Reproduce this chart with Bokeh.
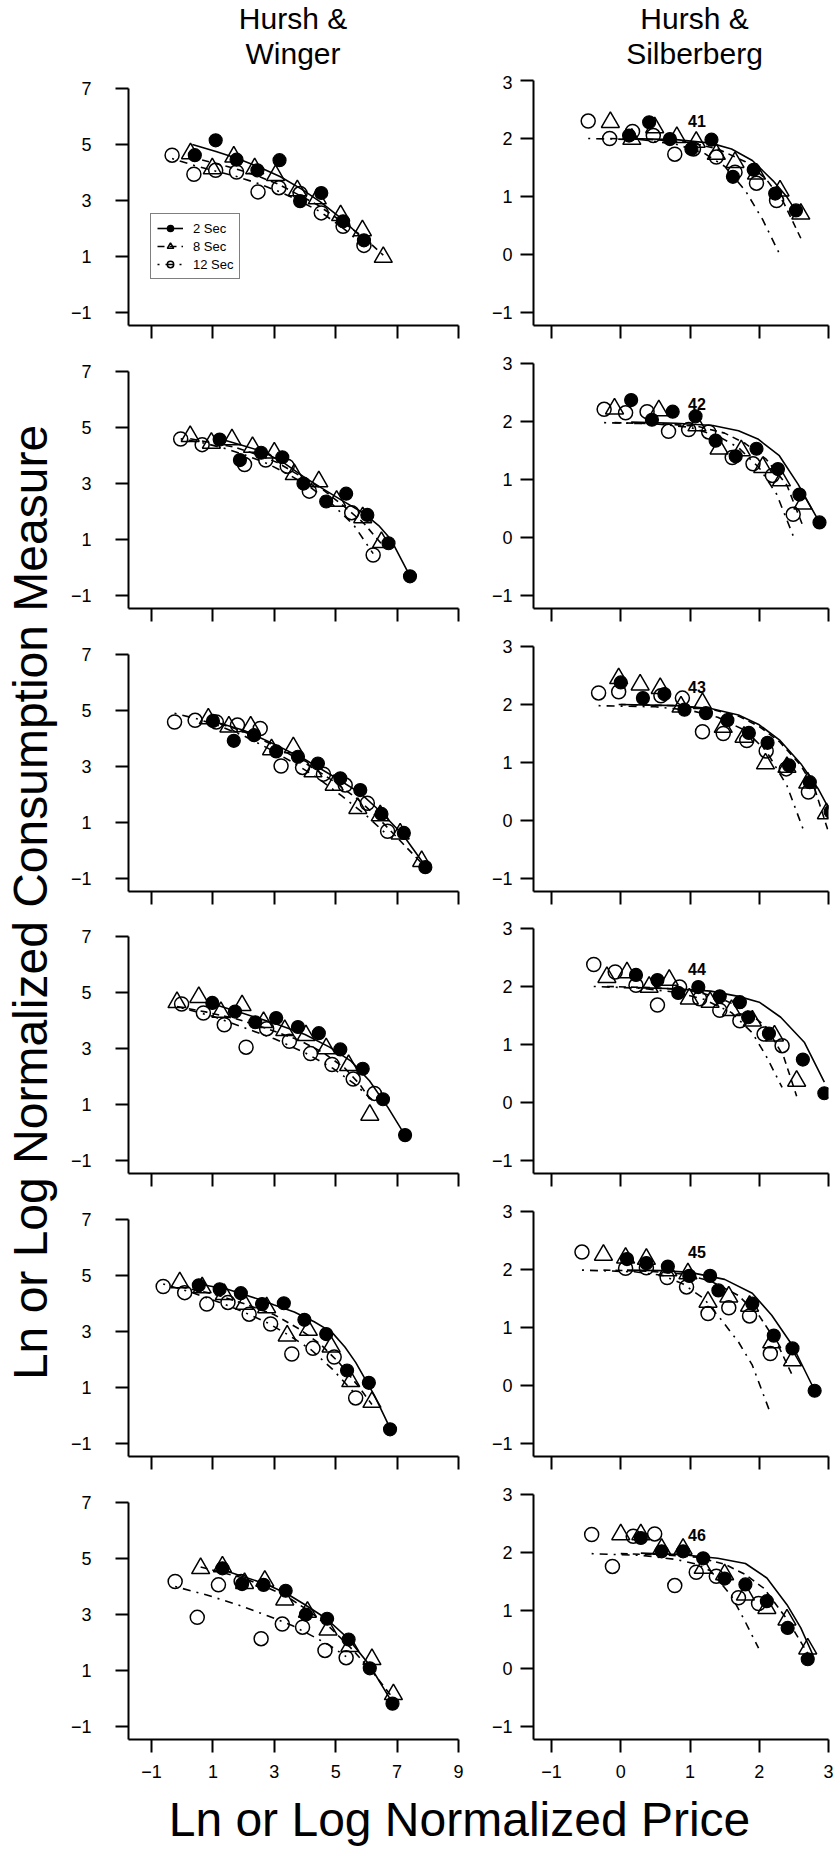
from bokeh.plotting import figure
from bokeh.layouts import column, row
from bokeh.models import Range1d, FixedTicker, Legend, LegendItem
from bokeh.core.properties import value
from bokeh.embed import file_html
from bokeh.resources import INLINE

FONT = "Liberation Sans"

# ------------------------------------------------------------------ data
column_titles = [["Hursh &", "Winger"], ["Hursh &", "Silberberg"]]
x_label = "Ln or Log Normalized Price"
y_label = "Ln or Log Normalized Consumption Measure"
series_names = ["2 Sec", "8 Sec", "12 Sec"]
bird_ids = ["41", "42", "43", "44", "45", "46"]
hw_x_ticks = [-1, 1, 3, 5, 7, 9]
hw_y_ticks = [-1, 1, 3, 5, 7]
hs_x_ticks = [-1, 0, 1, 2, 3]
hs_y_ticks = [-1, 0, 1, 2, 3]

# Hursh & Winger (left column)
hw1_2s = [(0.41, 4.62), (1.09, 5.15), (1.77, 4.46), (2.45, 4.08), (3.17, 4.44), (3.84, 2.98), (4.53, 3.27), (5.24, 2.26), (5.92, 1.58)]
hw1_8s = [(0.27, 4.68), (0.98, 4.14), (1.68, 4.56), (2.36, 4.14), (3.04, 3.90), (3.75, 3.36), (4.40, 3.07), (5.16, 2.47), (5.87, 1.93), (6.55, 0.98)]
hw1_12s = [(-0.33, 4.62), (0.38, 3.94), (1.09, 4.08), (1.77, 4.02), (2.47, 3.31), (3.15, 3.46), (3.84, 3.25), (4.53, 2.56), (5.24, 2.08), (5.92, 1.40)]
hw1_2s_fit = [(0.33, 5.0), (1.1, 4.75), (1.8, 4.5), (2.5, 4.2), (3.2, 3.85), (3.9, 3.4), (4.5, 2.95), (5.2, 2.35), (5.92, 1.6)]
hw1_8s_fit = [(0.27, 4.55), (1.0, 4.35), (1.7, 4.15), (2.4, 3.9), (3.1, 3.6), (3.8, 3.2), (4.4, 2.85), (5.2, 2.25), (5.9, 1.7), (6.55, 1.05)]
hw1_12s_fit = [(-0.33, 4.5), (0.4, 4.25), (1.1, 4.05), (1.8, 3.85), (2.5, 3.6), (3.2, 3.3), (3.8, 3.0), (4.5, 2.6), (5.2, 2.05), (5.92, 1.4)]

hw2_2s = [(1.22, 4.57), (1.88, 3.84), (2.57, 4.10), (3.26, 3.94), (3.95, 3.0), (4.69, 2.36), (5.34, 2.64), (6.03, 1.88), (6.72, 0.87), (7.42, -0.31)]
hw2_8s = [(0.26, 4.69), (0.95, 4.45), (1.62, 4.57), (2.29, 4.30), (3.0, 4.10), (3.65, 3.33), (4.45, 3.07), (5.03, 2.38), (5.88, 1.79), (6.49, 0.9)]
hw2_12s = [(-0.05, 4.59), (0.65, 4.39), (2.03, 3.68), (2.72, 3.84), (3.42, 3.62), (4.14, 2.73), (5.52, 1.96), (6.22, 0.45)]
hw2_2s_fit = [(1.22, 4.6), (2.0, 4.35), (2.6, 4.15), (3.3, 3.75), (3.95, 3.25), (4.6, 2.8), (5.2, 2.4), (5.9, 1.95), (6.4, 1.5), (6.8, 1.0), (7.42, -0.3)]
hw2_8s_fit = [(0.26, 4.6), (1.0, 4.45), (1.7, 4.3), (2.4, 4.05), (3.1, 3.75), (3.8, 3.3), (4.5, 2.85), (5.2, 2.25), (5.9, 1.6), (6.49, 0.85)]
hw2_12s_fit = [(-0.05, 4.6), (0.7, 4.45), (1.4, 4.25), (2.1, 4.0), (2.8, 3.7), (3.5, 3.3), (4.2, 2.85), (4.9, 2.25), (5.6, 1.5), (6.22, 0.5)]

hw3_2s = [(1.0, 4.63), (1.68, 3.92), (2.34, 4.12), (3.06, 3.54), (3.77, 3.35), (4.42, 3.11), (5.15, 2.58), (5.80, 2.16), (6.49, 1.31), (7.22, 0.63), (7.92, -0.59)]
hw3_8s = [(0.85, 4.71), (1.52, 4.42), (2.23, 4.42), (2.91, 3.61), (3.62, 3.68), (4.26, 2.82), (4.95, 2.34), (5.72, 1.51), (6.45, 1.25), (7.1, 0.6), (7.8, -0.38)]
hw3_12s = [(-0.25, 4.59), (0.42, 4.65), (1.11, 4.59), (1.8, 4.48), (2.54, 4.36), (3.22, 3.02), (3.92, 2.97), (4.60, 2.73), (5.31, 2.34), (6.03, 1.69), (6.69, 0.69)]
hw3_2s_fit = [(1.0, 4.62), (2.0, 4.3), (3.0, 3.8), (4.0, 3.25), (5.0, 2.6), (5.8, 2.05), (6.5, 1.35), (7.2, 0.55), (7.92, -0.55)]
hw3_8s_fit = [(0.85, 4.65), (1.9, 4.3), (2.9, 3.8), (3.9, 3.2), (4.9, 2.5), (5.7, 1.85), (6.4, 1.15), (7.1, 0.35), (7.8, -0.45)]
hw3_12s_fit = [(-0.25, 4.9), (0.5, 4.7), (1.2, 4.45), (2.0, 4.1), (2.8, 3.65), (3.6, 3.15), (4.4, 2.6), (5.2, 1.95), (6.0, 1.25), (6.69, 0.55)]

hw4_2s = [(0.98, 4.63), (1.72, 4.32), (2.38, 3.94), (3.06, 4.09), (3.77, 3.77), (4.45, 3.55), (5.15, 2.97), (5.88, 2.28), (6.54, 1.19), (7.26, -0.09)]
hw4_8s = [(-0.17, 4.65), (0.54, 4.83), (1.26, 4.30), (1.95, 4.54), (2.65, 3.94), (3.34, 3.65), (4.03, 3.47), (4.69, 3.0), (5.42, 2.40), (6.11, 0.63)]
hw4_12s = [(-0.02, 4.59), (0.69, 4.27), (1.37, 3.85), (2.08, 3.05), (2.75, 3.71), (3.49, 3.26), (4.18, 2.82), (4.88, 2.43), (5.57, 1.91), (6.26, 1.40)]
hw4_2s_fit = [(0.98, 4.6), (2.0, 4.25), (3.0, 3.9), (4.0, 3.5), (4.8, 3.05), (5.5, 2.55), (6.1, 1.85), (6.7, 0.9), (7.26, -0.1)]
hw4_8s_fit = [(-0.17, 4.5), (0.8, 4.3), (1.8, 4.05), (2.8, 3.7), (3.8, 3.3), (4.6, 2.85), (5.3, 2.3), (5.8, 1.7), (6.11, 1.2)]
hw4_12s_fit = [(-0.02, 4.45), (1.0, 4.15), (2.0, 3.75), (3.0, 3.35), (4.0, 2.85), (4.9, 2.3), (5.6, 1.75), (6.26, 1.1)]

hw5_2s = [(0.54, 4.65), (1.22, 4.51), (1.91, 4.37), (2.60, 3.98), (3.31, 4.01), (3.98, 3.42), (4.69, 2.91), (5.37, 1.61), (6.08, 1.17), (6.77, -0.49)]
hw5_8s = [(-0.08, 4.75), (0.65, 4.57), (1.37, 4.33), (2.03, 3.98), (2.75, 3.86), (3.42, 2.85), (4.11, 3.05), (4.85, 2.46), (5.49, 1.22), (6.18, 0.48)]
hw5_12s = [(-0.62, 4.61), (0.08, 4.39), (0.80, 3.98), (1.49, 4.04), (2.18, 3.62), (2.88, 3.27), (3.57, 2.20), (4.26, 2.40), (4.95, 2.09), (5.65, 0.63)]
hw5_2s_fit = [(0.54, 4.7), (1.5, 4.5), (2.5, 4.15), (3.0, 3.95), (3.65, 3.7), (4.3, 3.35), (4.88, 2.97), (5.3, 2.45), (5.65, 1.9), (6.26, 0.72), (6.77, -0.45)]
hw5_8s_fit = [(-0.08, 4.6), (1.0, 4.35), (2.0, 4.0), (3.0, 3.6), (3.8, 3.1), (4.5, 2.55), (5.1, 1.9), (5.7, 1.1), (6.18, 0.4)]
hw5_12s_fit = [(-0.62, 4.7), (0.3, 4.4), (1.2, 4.05), (2.0, 3.7), (2.8, 3.3), (3.5, 2.85), (4.2, 2.35), (4.9, 1.65), (5.65, 0.75)]

hw6_2s = [(1.31, 4.65), (1.95, 4.09), (2.65, 4.06), (3.37, 3.85), (4.03, 3.0), (4.72, 2.85), (5.42, 2.11), (6.11, 1.08), (6.85, -0.18)]
hw6_8s = [(0.60, 4.65), (1.31, 4.71), (2.03, 4.12), (2.69, 4.20), (3.34, 3.53), (4.08, 3.09), (4.75, 2.46), (5.46, 1.87), (6.18, 1.40), (6.88, 0.15)]
hw6_12s = [(-0.23, 4.18), (0.49, 2.90), (1.18, 4.06), (1.92, 4.18), (2.57, 2.14), (3.26, 2.66), (3.92, 2.55), (4.65, 1.72), (5.34, 1.46)]
hw6_2s_fit = [(1.31, 4.6), (2.0, 4.35), (2.7, 4.1), (3.4, 3.75), (4.0, 3.35), (4.7, 2.85), (5.4, 2.15), (6.1, 1.2), (6.85, -0.15)]
hw6_8s_fit = [(0.6, 4.7), (1.3, 4.5), (2.0, 4.3), (2.7, 4.0), (3.4, 3.65), (4.1, 3.15), (4.8, 2.55), (5.5, 1.8), (6.2, 0.95), (6.88, 0.0)]
hw6_12s_fit = [(-0.23, 4.0), (0.8, 3.7), (1.8, 3.35), (2.8, 2.95), (3.6, 2.6), (4.3, 2.2), (4.8, 1.9), (5.34, 1.5)]

# Hursh & Silberberg (right column)
hs1_2s = [(0.12, 2.05), (0.41, 2.28), (0.71, 1.99), (1.02, 1.82), (1.31, 1.98), (1.62, 1.34), (1.92, 1.46), (2.23, 1.05), (2.53, 0.76)]
hs1_8s = [(-0.15, 2.28), (0.16, 1.99), (0.49, 2.19), (0.81, 2.02), (1.09, 1.94), (1.38, 1.73), (1.65, 1.59), (1.96, 1.39), (2.30, 1.10), (2.60, 0.70)]
hs1_12s = [(-0.47, 2.30), (-0.16, 2.00), (0.17, 2.12), (0.47, 2.05), (0.78, 1.73), (1.05, 1.82), (1.38, 1.68), (1.65, 1.42), (1.96, 1.23), (2.25, 0.93)]
hs1_2s_fit = [(0.12, 2.0), (0.8, 1.98), (1.3, 1.92), (1.6, 1.82), (1.9, 1.62), (2.2, 1.27), (2.4, 0.99), (2.57, 0.67)]
hs1_8s_fit = [(-0.15, 2.0), (0.5, 1.98), (1.0, 1.93), (1.4, 1.82), (1.8, 1.6), (2.1, 1.3), (2.35, 0.9), (2.6, 0.28)]
hs1_12s_fit = [(-0.47, 2.0), (0.3, 1.98), (0.8, 1.9), (1.2, 1.75), (1.5, 1.52), (1.8, 1.1), (2.05, 0.6), (2.28, 0.04)]

hs2_2s = [(0.15, 2.37), (0.45, 2.03), (0.75, 2.17), (1.08, 2.09), (1.37, 1.67), (1.66, 1.40), (1.96, 1.53), (2.27, 1.18), (2.58, 0.74), (2.87, 0.26)]
hs2_8s = [(-0.09, 2.22), (0.55, 2.19), (1.10, 1.93), (1.42, 1.53), (1.74, 1.50), (2.05, 1.21), (2.32, 0.98), (2.63, 0.58)]
hs2_12s = [(-0.24, 2.21), (0.07, 2.15), (0.38, 2.17), (0.69, 1.83), (0.98, 1.86), (1.27, 1.82), (1.61, 1.38), (1.91, 1.27), (2.19, 1.07), (2.49, 0.40)]
hs2_2s_fit = [(0.15, 1.99), (0.8, 1.97), (1.33, 1.93), (1.7, 1.84), (1.98, 1.70), (2.29, 1.41), (2.56, 0.92), (2.87, 0.26)]
hs2_8s_fit = [(-0.09, 1.98), (0.6, 1.96), (1.1, 1.92), (1.5, 1.8), (1.8, 1.62), (2.1, 1.35), (2.4, 0.9), (2.63, 0.2)]
hs2_12s_fit = [(-0.24, 1.98), (0.5, 1.96), (1.0, 1.9), (1.4, 1.75), (1.7, 1.55), (2.0, 1.2), (2.25, 0.75), (2.49, 0.03)]

hs3_2s = [(0.0, 2.38), (0.32, 2.11), (0.63, 2.18), (0.92, 1.91), (1.23, 1.85), (1.54, 1.73), (1.85, 1.51), (2.12, 1.34), (2.43, 0.95), (2.73, 0.66), (3.03, 0.15)]
hs3_8s = [(-0.03, 2.45), (0.28, 2.34), (0.57, 2.28), (0.87, 1.96), (1.18, 2.02), (1.48, 1.61), (1.78, 1.44), (2.09, 0.98), (2.40, 0.92), (2.70, 0.65), (2.97, 0.12)]
hs3_12s = [(-0.32, 2.20), (-0.03, 2.22), (0.58, 2.15), (0.89, 2.11), (1.18, 1.53), (1.48, 1.50), (1.82, 1.38), (2.10, 1.20), (2.39, 0.89), (2.71, 0.49)]
hs3_2s_fit = [(0.0, 2.0), (0.8, 1.98), (1.3, 1.93), (1.7, 1.82), (2.0, 1.65), (2.3, 1.38), (2.6, 0.98), (2.85, 0.55), (3.03, 0.15)]
hs3_8s_fit = [(-0.03, 2.0), (0.8, 1.98), (1.3, 1.92), (1.7, 1.8), (2.0, 1.62), (2.3, 1.35), (2.6, 0.95), (2.8, 0.55), (3.0, -0.2)]
hs3_12s_fit = [(-0.32, 1.98), (0.5, 1.96), (1.0, 1.9), (1.4, 1.78), (1.8, 1.55), (2.1, 1.2), (2.4, 0.6), (2.65, -0.2)]

hs4_2s = [(0.22, 2.20), (0.53, 2.11), (0.83, 1.89), (1.12, 1.99), (1.43, 1.83), (1.72, 1.73), (1.84, 1.47), (2.14, 1.19), (2.63, 0.74), (2.94, 0.16)]
hs4_8s = [(-0.20, 2.16), (0.09, 2.24), (0.41, 1.99), (0.70, 2.11), (0.99, 1.79), (1.29, 1.73), (1.60, 1.59), (1.90, 1.41), (2.22, 1.15), (2.54, 0.37)]
hs4_12s = [(-0.39, 2.38), (-0.08, 2.25), (0.22, 2.02), (0.53, 1.68), (0.85, 1.99), (1.14, 1.79), (1.43, 1.59), (1.72, 1.41), (2.07, 1.18), (2.33, 0.98)]
hs4_2s_fit = [(0.22, 1.98), (0.8, 1.96), (1.3, 1.92), (1.7, 1.83), (2.0, 1.73), (2.31, 1.47), (2.65, 1.04), (2.94, 0.35)]
hs4_8s_fit = [(-0.2, 2.0), (0.5, 1.98), (1.0, 1.93), (1.4, 1.82), (1.8, 1.6), (2.1, 1.3), (2.35, 0.8), (2.54, 0.11)]
hs4_12s_fit = [(-0.39, 2.0), (0.3, 1.97), (0.8, 1.9), (1.2, 1.78), (1.6, 1.55), (1.9, 1.2), (2.1, 0.8), (2.33, 0.26)]

hs5_2s = [(0.09, 2.18), (0.37, 2.11), (0.68, 2.05), (0.99, 1.89), (1.29, 1.89), (1.41, 1.64), (1.90, 1.41), (2.21, 0.86), (2.48, 0.64), (2.80, -0.09)]
hs5_8s = [(-0.25, 2.25), (0.07, 2.20), (0.37, 2.18), (0.68, 1.98), (0.97, 1.93), (1.26, 1.44), (1.56, 1.53), (1.86, 1.37), (2.18, 0.74), (2.48, 0.43)]
hs5_12s = [(-0.56, 2.30), (0.07, 2.02), (0.37, 2.03), (0.67, 1.86), (0.95, 1.70), (1.26, 1.24), (1.56, 1.34), (1.86, 1.20), (2.16, 0.55)]
hs5_2s_fit = [(0.09, 1.99), (0.6, 1.98), (1.0, 1.95), (1.5, 1.83), (1.9, 1.59), (2.18, 1.21), (2.48, 0.69), (2.79, -0.06)]
hs5_8s_fit = [(-0.25, 1.99), (0.4, 1.97), (0.9, 1.92), (1.3, 1.8), (1.7, 1.55), (2.0, 1.2), (2.25, 0.75), (2.48, 0.17)]
hs5_12s_fit = [(-0.56, 1.99), (0.2, 1.96), (0.6, 1.9), (0.9, 1.75), (1.2, 1.5), (1.46, 1.12), (1.7, 0.75), (1.9, 0.35), (2.14, -0.41)]

hs6_2s = [(0.29, 2.25), (0.59, 2.02), (0.90, 2.02), (1.19, 1.90), (1.50, 1.55), (1.80, 1.45), (2.11, 1.16), (2.41, 0.70), (2.70, 0.16)]
hs6_8s = [(0.0, 2.31), (0.29, 2.31), (0.59, 2.06), (0.90, 2.06), (1.19, 1.73), (1.50, 1.62), (1.80, 1.27), (2.11, 1.04), (2.40, 0.84), (2.70, 0.34)]
hs6_12s = [(-0.42, 2.31), (-0.12, 1.76), (0.18, 2.28), (0.49, 2.32), (0.78, 1.43), (1.09, 1.66), (1.38, 1.59), (1.70, 1.22), (1.99, 1.12)]
hs6_2s_fit = [(0.29, 1.99), (0.9, 1.96), (1.4, 1.9), (1.8, 1.81), (2.11, 1.56), (2.40, 1.10), (2.6, 0.7), (2.78, 0.22)]
hs6_8s_fit = [(0.0, 1.98), (0.6, 1.96), (1.1, 1.92), (1.5, 1.8), (1.8, 1.62), (2.07, 1.38), (2.4, 0.85), (2.7, 0.26)]
hs6_12s_fit = [(-0.42, 1.98), (0.3, 1.95), (0.8, 1.88), (1.1, 1.8), (1.3, 1.68), (1.6, 1.25), (1.8, 0.8), (1.99, 0.35)]

hw_panels = [
    (hw1_2s, hw1_8s, hw1_12s, hw1_2s_fit, hw1_8s_fit, hw1_12s_fit),
    (hw2_2s, hw2_8s, hw2_12s, hw2_2s_fit, hw2_8s_fit, hw2_12s_fit),
    (hw3_2s, hw3_8s, hw3_12s, hw3_2s_fit, hw3_8s_fit, hw3_12s_fit),
    (hw4_2s, hw4_8s, hw4_12s, hw4_2s_fit, hw4_8s_fit, hw4_12s_fit),
    (hw5_2s, hw5_8s, hw5_12s, hw5_2s_fit, hw5_8s_fit, hw5_12s_fit),
    (hw6_2s, hw6_8s, hw6_12s, hw6_2s_fit, hw6_8s_fit, hw6_12s_fit),
]
hs_panels = [
    (hs1_2s, hs1_8s, hs1_12s, hs1_2s_fit, hs1_8s_fit, hs1_12s_fit),
    (hs2_2s, hs2_8s, hs2_12s, hs2_2s_fit, hs2_8s_fit, hs2_12s_fit),
    (hs3_2s, hs3_8s, hs3_12s, hs3_2s_fit, hs3_8s_fit, hs3_12s_fit),
    (hs4_2s, hs4_8s, hs4_12s, hs4_2s_fit, hs4_8s_fit, hs4_12s_fit),
    (hs5_2s, hs5_8s, hs5_12s, hs5_2s_fit, hs5_8s_fit, hs5_12s_fit),
    (hs6_2s, hs6_8s, hs6_12s, hs6_2s_fit, hs6_8s_fit, hs6_12s_fit),
]

# ------------------------------------------------------------------ layout
TOP_H = 75
ROW_BT = [5, 20, 20, 19, 20, 20]       # border above each frame
ROW_BB = [18, 18, 18, 18, 18, 50]      # border below each frame
FRAME_H = 245
LEFT_STRIP_W = 64
LEFT_W, LEFT_BL, LEFT_BR = 406, 64, 12
RIGHT_W, RIGHT_BL, RIGHT_BR = 368, 63, 10
BOTTOM_H = 63
TOTAL_W = LEFT_STRIP_W + LEFT_W + RIGHT_W
# text glyphs are drawn about 0.43 em below their 'alphabetic' anchor here
BASE_SHIFT = 0.43

DASHES = ["solid", "7 5", "2 6 8 6"]


def minus(v):
    return ("\u2212%d" % abs(v)) if v < 0 else "%d" % v


def style_axis(ax, ticks, standoff, show_labels, bounds=None):
    ax.ticker = FixedTicker(ticks=ticks, minor_ticks=[])
    ax.major_label_overrides = {t: minus(t) for t in ticks}
    if bounds is not None:
        ax.bounds = bounds
    ax.axis_line_color = "black"
    ax.axis_line_width = 2
    ax.major_tick_line_color = "black"
    ax.major_tick_line_width = 2
    ax.major_tick_out = 13
    ax.major_tick_in = 0
    ax.minor_tick_out = 0
    ax.minor_tick_in = 0
    ax.major_label_text_font = FONT
    ax.major_label_text_font_size = "18px"
    ax.major_label_standoff = standoff
    ax.major_label_text_color = "black" if show_labels else None


def make_panel(left, r, data, ident=None, legend=False):
    bt, bb = ROW_BT[r], ROW_BB[r]
    h = bt + FRAME_H + bb
    bottom_row = r == 5
    if left:
        w, bl, br = LEFT_W, LEFT_BL, LEFT_BR
        xr, yr = (-1.75, 9), (-1.46, 7.286)
        xt, yt = hw_x_ticks, hw_y_ticks
        ystand, ybounds = 24, (-1.46, 7)
    else:
        w, bl, br = RIGHT_W, RIGHT_BL, RIGHT_BR
        xr, yr = (-1.26, 3), (-1.224, 3)
        xt, yt = hs_x_ticks, hs_y_ticks
        ystand, ybounds = 8, None
    p = figure(width=w, height=h, x_range=Range1d(*xr), y_range=Range1d(*yr),
               min_border_left=bl, min_border_right=br, min_border_top=bt,
               min_border_bottom=bb, toolbar_location=None, output_backend="svg",
               title=None)
    p.xgrid.visible = False
    p.ygrid.visible = False
    p.outline_line_color = None
    p.background_fill_color = "white"
    p.border_fill_color = "white"
    style_axis(p.xaxis[0], xt, 12, bottom_row)
    style_axis(p.yaxis[0], yt, ystand, True, ybounds)

    pts = data[:3]
    fits = data[3:]
    items = []
    for k in range(3):
        fx, fy = zip(*fits[k])
        lr = p.line(list(fx), list(fy), line_color="black", line_width=1.6,
                    line_dash=DASHES[k])
        px, py = zip(*pts[k])
        if k == 0:
            sr = p.scatter(list(px), list(py), marker="circle", size=13,
                           fill_color="black", line_color="black", line_width=1.2)
        elif k == 1:
            sr = p.scatter(list(px), list(py), marker="triangle", size=18,
                           fill_color=None, line_color="black", line_width=1.5)
        else:
            sr = p.scatter(list(px), list(py), marker="circle", size=14,
                           fill_color=None, line_color="black", line_width=1.5)
        items.append(LegendItem(label=series_names[k], renderers=[lr, sr]))

    if ident is not None:
        p.text(x=[1.1], y=[2.3], text=[ident], text_font=value(FONT),
               text_font_style="bold", text_font_size="16px",
               text_align="center", text_baseline="middle", text_color="black")

    if legend:
        lg = Legend(items=items, location=(22, 46), orientation="vertical",
                    border_line_color="black", border_line_width=1.5,
                    background_fill_color="white", background_fill_alpha=1.0,
                    padding=6, spacing=2, margin=0, label_standoff=10,
                    glyph_width=26, glyph_height=16, label_height=16,
                    label_text_font=FONT, label_text_font_size="13px",
                    label_text_color="black")
        p.add_layout(lg)
    return p


def strip(w, h):
    s = figure(width=w, height=h, x_range=Range1d(0, w), y_range=Range1d(0, h),
               toolbar_location=None, output_backend="svg", title=None,
               x_axis_location=None, y_axis_location=None, min_border=0,
               min_border_left=0, min_border_right=0, min_border_top=0,
               min_border_bottom=0)
    s.xgrid.visible = False
    s.ygrid.visible = False
    s.outline_line_color = None
    s.background_fill_color = "white"
    s.border_fill_color = "white"
    return s


# column titles: centres x=292.5 / 694, baselines at page y=31 and y=66
TITLE_SIZE = 30
top = strip(TOTAL_W, TOP_H)
title_x = [292.5, 694]
title_base = [31, 66]
for ci, lines in enumerate(column_titles):
    top.text(x=[title_x[ci]] * 2,
             y=[TOP_H - (b - BASE_SHIFT * TITLE_SIZE) for b in title_base],
             text=lines, text_font=value(FONT), text_font_size="%dpx" % TITLE_SIZE,
             text_align="center", text_baseline="alphabetic", text_color="black")

BIG = 48
grid_h = sum(ROW_BT) + sum(ROW_BB) + 6 * FRAME_H
grid_bottom = TOP_H + grid_h
ystrip = strip(LEFT_STRIP_W, grid_h)
# rotated label: baseline at page x=51, centred on page y=902
ystrip.text(x=[51 - BASE_SHIFT * BIG], y=[grid_bottom - 902], text=[y_label],
            angle=1.5707963, text_font=value(FONT), text_font_size="%dpx" % BIG,
            text_align="center", text_baseline="alphabetic", text_color="black")

bottom = strip(TOTAL_W, BOTTOM_H)
# baseline at page y=1840, centred on page x=459
bottom.text(x=[459], y=[grid_bottom + BOTTOM_H - (1840 - BASE_SHIFT * BIG)],
            text=[x_label], text_font=value(FONT), text_font_size="%dpx" % BIG,
            text_align="center", text_baseline="alphabetic", text_color="black")

rows = []
for r in range(6):
    lp = make_panel(True, r, hw_panels[r], legend=(r == 0))
    rp = make_panel(False, r, hs_panels[r], ident=bird_ids[r])
    rows.append(row(lp, rp, spacing=0))

layout = column(top, row(ystrip, column(*rows, spacing=0), spacing=0), bottom,
                spacing=0)

open("out.html", "w").write(file_html(layout, INLINE))
